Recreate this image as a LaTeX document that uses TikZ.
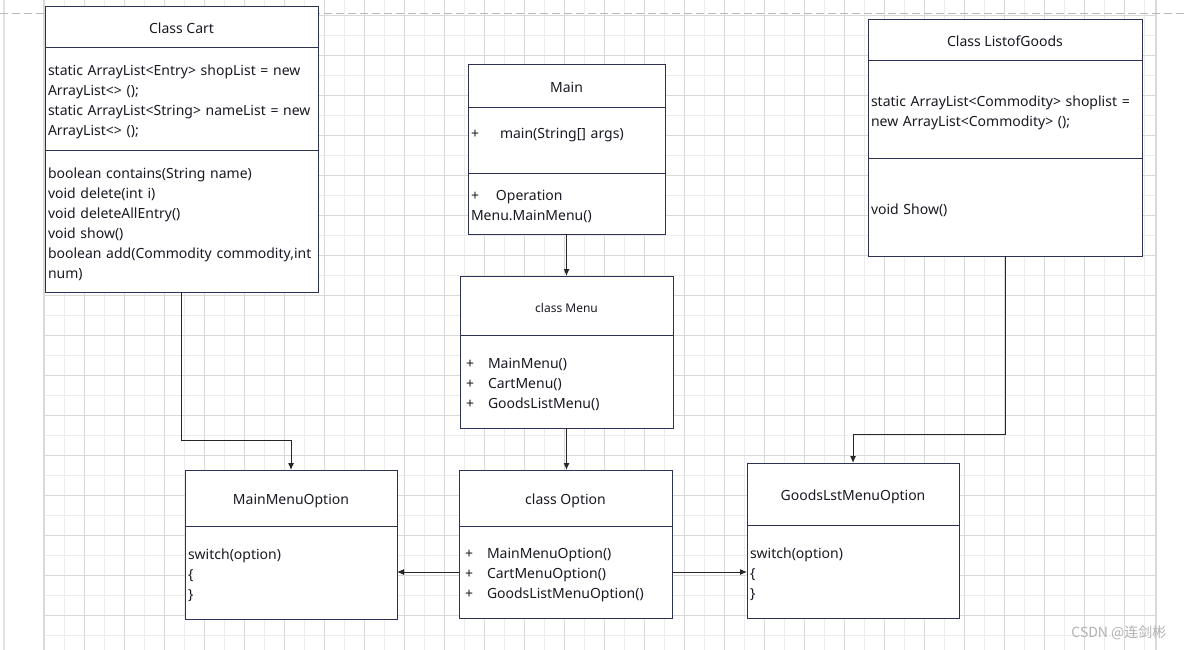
\documentclass[tikz,border=0pt]{standalone}
\usepackage{fontspec}
\setmainfont{Noto Sans}
\newfontfamily\cjk{Noto Sans CJK SC}
\usetikzlibrary{positioning,arrows.meta}
\definecolor{boxline}{RGB}{45,50,85}
\definecolor{gridmajor}{RGB}{217,217,217}
\definecolor{gridminor}{RGB}{236,236,236}
\definecolor{edgeline}{RGB}{224,224,234}
\definecolor{ink}{RGB}{25,25,35}
\newcommand{\plus}[1]{\makebox[#1][l]{+}}

\begin{document}
\begin{tikzpicture}[x=1pt, y=-1pt,
  font=\fontsize{14}{20}\selectfont, text=ink,
  part/.style={draw=boxline, line width=1pt, fill=white, inner xsep=3pt, inner ysep=0pt, outer sep=0pt},
  head/.style={part, align=center, anchor=north, text height=13pt, text depth=0pt},
  body/.style={part, align=left, below=0pt of #1, execute at begin node={\rule{0pt}{17pt}}},
  arr/.style={draw=black!85, line width=1pt, -{Latex[length=7pt,width=6pt]}}]
  \useasboundingbox[fill=white] (0,0) rectangle (1185,650);
  \foreach \gx in {44,84,...,1156} \draw[gridmajor] (\gx,0) -- (\gx,650);
  \foreach \gx in {64,104,...,1156} \draw[gridminor] (\gx,0) -- (\gx,650);
  \foreach \gy in {15,55,...,650} \draw[gridmajor] (44,\gy) -- (1156,\gy);
  \foreach \gy in {35,75,...,650} \draw[gridminor] (44,\gy) -- (1156,\gy);
  \draw[gridmajor, line width=1.5pt] (1156,0) -- (1156,650);
  \draw[gridmajor, line width=1.5pt] (44,0) -- (44,650);
  \draw[edgeline, line width=2pt] (4,0) -- (4,650);
  \draw[gray!55, line width=1pt, dash pattern=on 8pt off 4pt] (0,14) -- (1185,14);

  \node[head, minimum width=273, minimum height=41] (cartt) at (181.5,7) {Class Cart};
  \node[body=cartt, text width=267, minimum height=102] (carta)
    {static ArrayList<Entry> shopList = new\\ArrayList<> ();\\static ArrayList<String> nameList = new\\ArrayList<> ();};
  \node[body=carta, text width=267, minimum height=142] (cartm)
    {boolean contains(String name)\\void delete(int i)\\void deleteAllEntry()\\void show()\\boolean add(Commodity commodity,int\\num)};

  \node[head, minimum width=197, minimum height=43] (maint) at (566.5,65) {Main};
  \node[body=maint, text width=191, minimum height=65] (maina) {\plus{29pt}main(String[] args)\\\mbox{}};
  \node[body=maina, text width=191, minimum height=61] (mainm) {\plus{25pt}Operation\\Menu.MainMenu()};

  \node[head, minimum width=274, minimum height=41] (goodst) at (1005,20) {Class ListofGoods};
  \node[body=goodst, text width=268, minimum height=97] (goodsa)
    {static ArrayList<Commodity> shoplist =\\new ArrayList<Commodity> ();};
  \node[body=goodsa, text width=268, minimum height=98] (goodsm) {void Show()};

  \node[head, minimum width=213, minimum height=59, font=\fontsize{12}{16}\selectfont] (menut) at (566.5,276) {class Menu};
  \node[body=menut, text width=207, minimum height=93] (menum)
    {\hspace{3pt}\plus{22pt}MainMenu()\\\hspace{3pt}\plus{22pt}CartMenu()\\\hspace{3pt}\plus{22pt}GoodsListMenu()};

  \node[head, minimum width=213, minimum height=56] (optt) at (565.5,470) {class Option};
  \node[body=optt, text width=207, minimum height=92] (optm)
    {\hspace{3pt}\plus{22pt}MainMenuOption()\\\hspace{3pt}\plus{22pt}CartMenuOption()\\\hspace{3pt}\plus{22pt}GoodsListMenuOption()};

  \node[head, minimum width=212, minimum height=56] (mmot) at (291,470) {MainMenuOption};
  \node[body=mmot, text width=206, minimum height=93] (mmom) {switch(option)\\\{\\\}};

  \node[head, minimum width=212, minimum height=62] (glot) at (853,463) {GoodsLstMenuOption};
  \node[body=glot, text width=206, minimum height=93] (glom) {switch(option)\\\{\\\}};

  \coordinate (cartbend) at (291,440);
  \coordinate (goodsbend) at (853,434);
  \draw[arr] (mainm.south) -- (menut.north);
  \draw[arr] (menum.south) -- (menum.south |- optt.north);
  \draw[arr] (cartm.south) |- (cartbend) -- (mmot.north);
  \draw[arr] (goodsm.south) |- (goodsbend) -- (glot.north);
  \draw[arr] (optm.west) -- (optm.west -| mmom.east);
  \draw[arr] (optm.east) -- (optm.east -| glom.west);

  \node[anchor=east, text=gray!60, font=\cjk\fontsize{14}{16}\selectfont] (mark) at (1170,633) {CSDN @连剑彬};
\end{tikzpicture}
\end{document}
